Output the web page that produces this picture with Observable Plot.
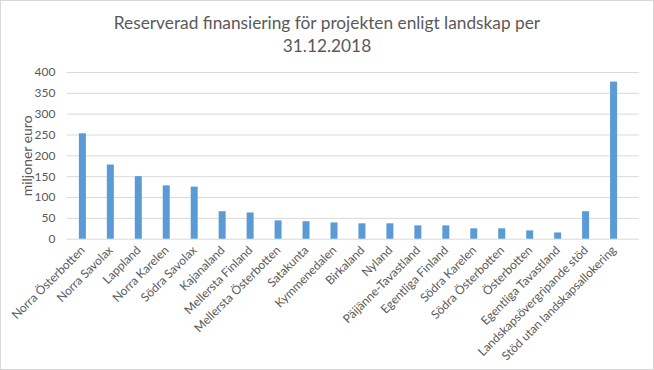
<!DOCTYPE html>
<html>
<head>
<meta charset="utf-8">
<script src="https://cdn.jsdelivr.net/npm/d3@7"></script>
<script src="https://cdn.jsdelivr.net/npm/@observablehq/plot@0.6"></script>
<style>
  html, body { margin: 0; padding: 0; background: #fff; }
  #wrap { position: relative; width: 654px; height: 370px; box-sizing: border-box; border: 1px solid #d9d9d9; overflow: hidden; }
  #title { position: absolute; left: 0; top: 10px; width: 652px; text-align: center; font-family: Lato, "Open Sans", sans-serif; font-size: 17.3px; line-height: 23px; color: #595959; }
  #chart { position: absolute; left: -1px; top: 59px; }
</style>
</head>
<body>
<div id="wrap">
  <div id="title">Reserverad finansiering för projekten enligt landskap per<br>31.12.2018</div>
  <div id="chart"></div>
</div>
<script>
const categories = [
  "Norra Österbotten", "Norra Savolax", "Lappland", "Norra Karelen", "Södra Savolax",
  "Kajanaland", "Mellersta Finland", "Mellersta Österbotten", "Satakunta", "Kymmenedalen",
  "Birkaland", "Nyland", "Päijänne-Tavastland", "Egentliga Finland", "Södra Karelen",
  "Södra Österbotten", "Österbotten", "Egentliga Tavastland", "Landskapsövergripande stöd",
  "Stöd utan landskapsallokering"
];
const values = [253, 178, 150, 128, 125, 66, 63, 44, 42, 39, 37, 37, 32, 32, 25, 25, 20, 15, 66, 377];
const yTicks = [0, 50, 100, 150, 200, 250, 300, 350, 400];
const yLabel = "miljoner euro";

const data = categories.map((c, i) => ({category: c, value: values[i]}));
const textColor = "#595959";

const chart = Plot.plot({
  width: 654,
  height: 310,
  marginTop: 12,
  marginBottom: 131,
  marginLeft: 62,
  marginRight: 19,
  style: {fontFamily: "Lato, 'Open Sans', sans-serif", fontSize: "12px", color: textColor, background: "transparent"},
  x: {domain: categories, paddingInner: 0.75, paddingOuter: 0.375, label: null},
  y: {domain: [0, 400], label: null},
  marks: [
    Plot.ruleY(yTicks, {y: d => d, stroke: "#d9d9d9", strokeWidth: 1, insetLeft: 5, insetRight: -5}),
    Plot.barY(data, {x: "category", y: "value", fill: "#5b9bd5"}),
    Plot.axisY({ticks: yTicks, tickSize: 0, tickPadding: 7, fill: textColor, fontSize: 12, label: null}),
    Plot.axisX({tickSize: 0, tickPadding: 9, tickRotate: -45, fill: textColor, fontSize: 12, label: null}),
    Plot.text([yLabel], {frameAnchor: "left", textAnchor: "middle", rotate: -90, dx: -35, fill: textColor, fontSize: 14})
  ]
});
document.getElementById("chart").appendChild(chart);
</script>
</body>
</html>
